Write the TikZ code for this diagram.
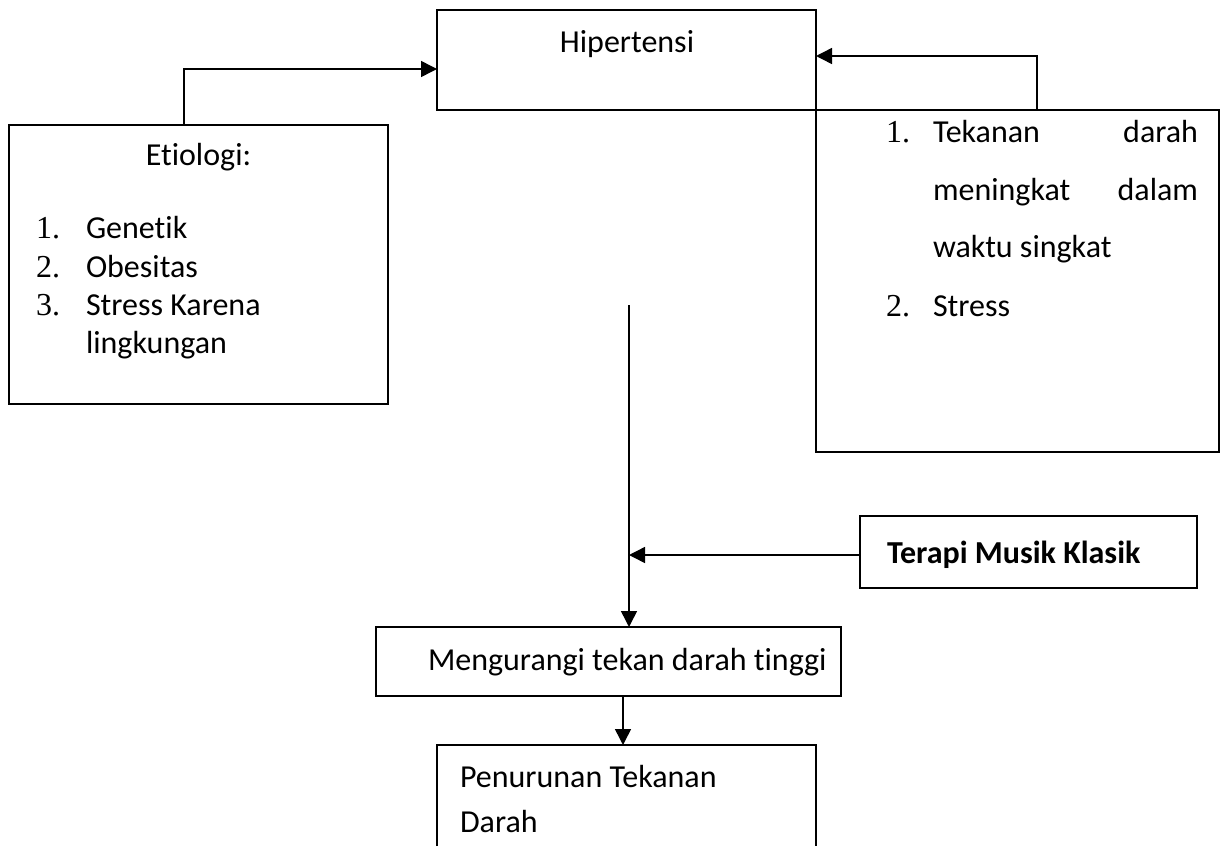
\documentclass[tikz,border=0pt]{standalone}
\usepackage{fontspec}
\setmainfont{Carlito}[Ligatures={NoCommon,NoRare,NoContextual}]
\newfontfamily\numfont{Liberation Serif}
\usetikzlibrary{arrows.meta}
\begin{document}
\begin{tikzpicture}[x=1pt,y=-1pt,
  box/.style={draw=black, line width=1.5pt, inner sep=0pt, outer sep=0pt, rectangle},
  arr/.style={draw=black, line width=1.5pt, -{Triangle[length=16pt,width=16pt]}},
  lbl/.style={inner sep=0pt, outer sep=0pt, font=\fontsize{32}{39}\selectfont},
  num/.style={inner sep=0pt, outer sep=0pt, font=\fontsize{32}{39}\selectfont\numfont}]
\useasboundingbox (0,0) rectangle (1225,846);
% boxes
\node[box, minimum width=379pt, minimum height=100pt] (hip) at (626.5,60) {};
\node[box, minimum width=379pt, minimum height=279pt] (eti) at (198.5,264.5) {};
\node[box, minimum width=403pt, minimum height=342pt] (fak) at (1017.5,281) {};
\node[box, minimum width=337pt, minimum height=72pt] (ter) at (1028.5,552) {};
\node[box, minimum width=465pt, minimum height=69pt] (meng) at (608.5,661.5) {};
\node[inner sep=0pt, outer sep=0pt, minimum width=379pt, minimum height=101pt] (pen) at (626.5,795.5) {};
\draw[line width=1.5pt] (pen.south west) -- (pen.north west) -- (pen.north east) -- (pen.south east);
% helper coordinates
\coordinate (x184) at (184,0);
\coordinate (y69) at (0,69);
\coordinate (x1037) at (1037,0);
\coordinate (y56) at (0,56);
\coordinate (vstart) at (629,305);
\coordinate (y555) at (0,555);
\coordinate (x623) at (623,0);
% texts
\node[lbl, anchor=base] (thip) at (627,52) {Hipertensi};
\node[lbl, anchor=base] (teti) at (198.5,165) {Etiologi:};
\node[num, anchor=base west] (n1) at (36,238) {1.};
\node[lbl, anchor=base west] (e1) at (86,238) {Genetik};
\node[num, anchor=base west] (n2) at (36,277) {2.};
\node[lbl, anchor=base west] (e2) at (86,277) {Obesitas};
\node[num, anchor=base west] (n3) at (36,315) {3.};
\node[lbl, anchor=base west] (e3) at (86,315) {Stress Karena};
\node[lbl, anchor=base west] (e4) at (86,353) {lingkungan};
\node[num, anchor=base west] (m1) at (886,142) {1.};
\node[lbl, anchor=base west] (f1) at (933,142) {\hbox to 265pt{Tekanan\hfill darah}};
\node[lbl, anchor=base west] (f2) at (933,200) {\hbox to 265pt{meningkat\hfill dalam}};
\node[lbl, anchor=base west] (f3) at (933,257) {waktu singkat};
\node[num, anchor=base west] (m2) at (886,316) {2.};
\node[lbl, anchor=base west] (f4) at (933,316) {Stress};
\node[lbl, anchor=base west, font=\fontsize{32}{39}\selectfont\bfseries] (tter) at (887,563) {Terapi Musik Klasik};
\node[lbl, anchor=base west] (tmeng) at (428,670) {Mengurangi tekan darah tinggi};
\node[lbl, anchor=base west] (tpen1) at (460,787) {Penurunan Tekanan};
\node[lbl, anchor=base west] (tpen2) at (460,832) {Darah};
% connectors
\draw[arr] (eti.north -| x184) |- (hip.west |- y69);
\draw[arr] (fak.north -| x1037) |- (hip.east |- y56);
\draw[arr] (vstart) -- (meng.north -| vstart);
\draw[arr] (ter.west |- y555) -- (vstart |- y555);
\draw[arr] (meng.south -| x623) -- (pen.north -| x623);
\end{tikzpicture}
\end{document}
